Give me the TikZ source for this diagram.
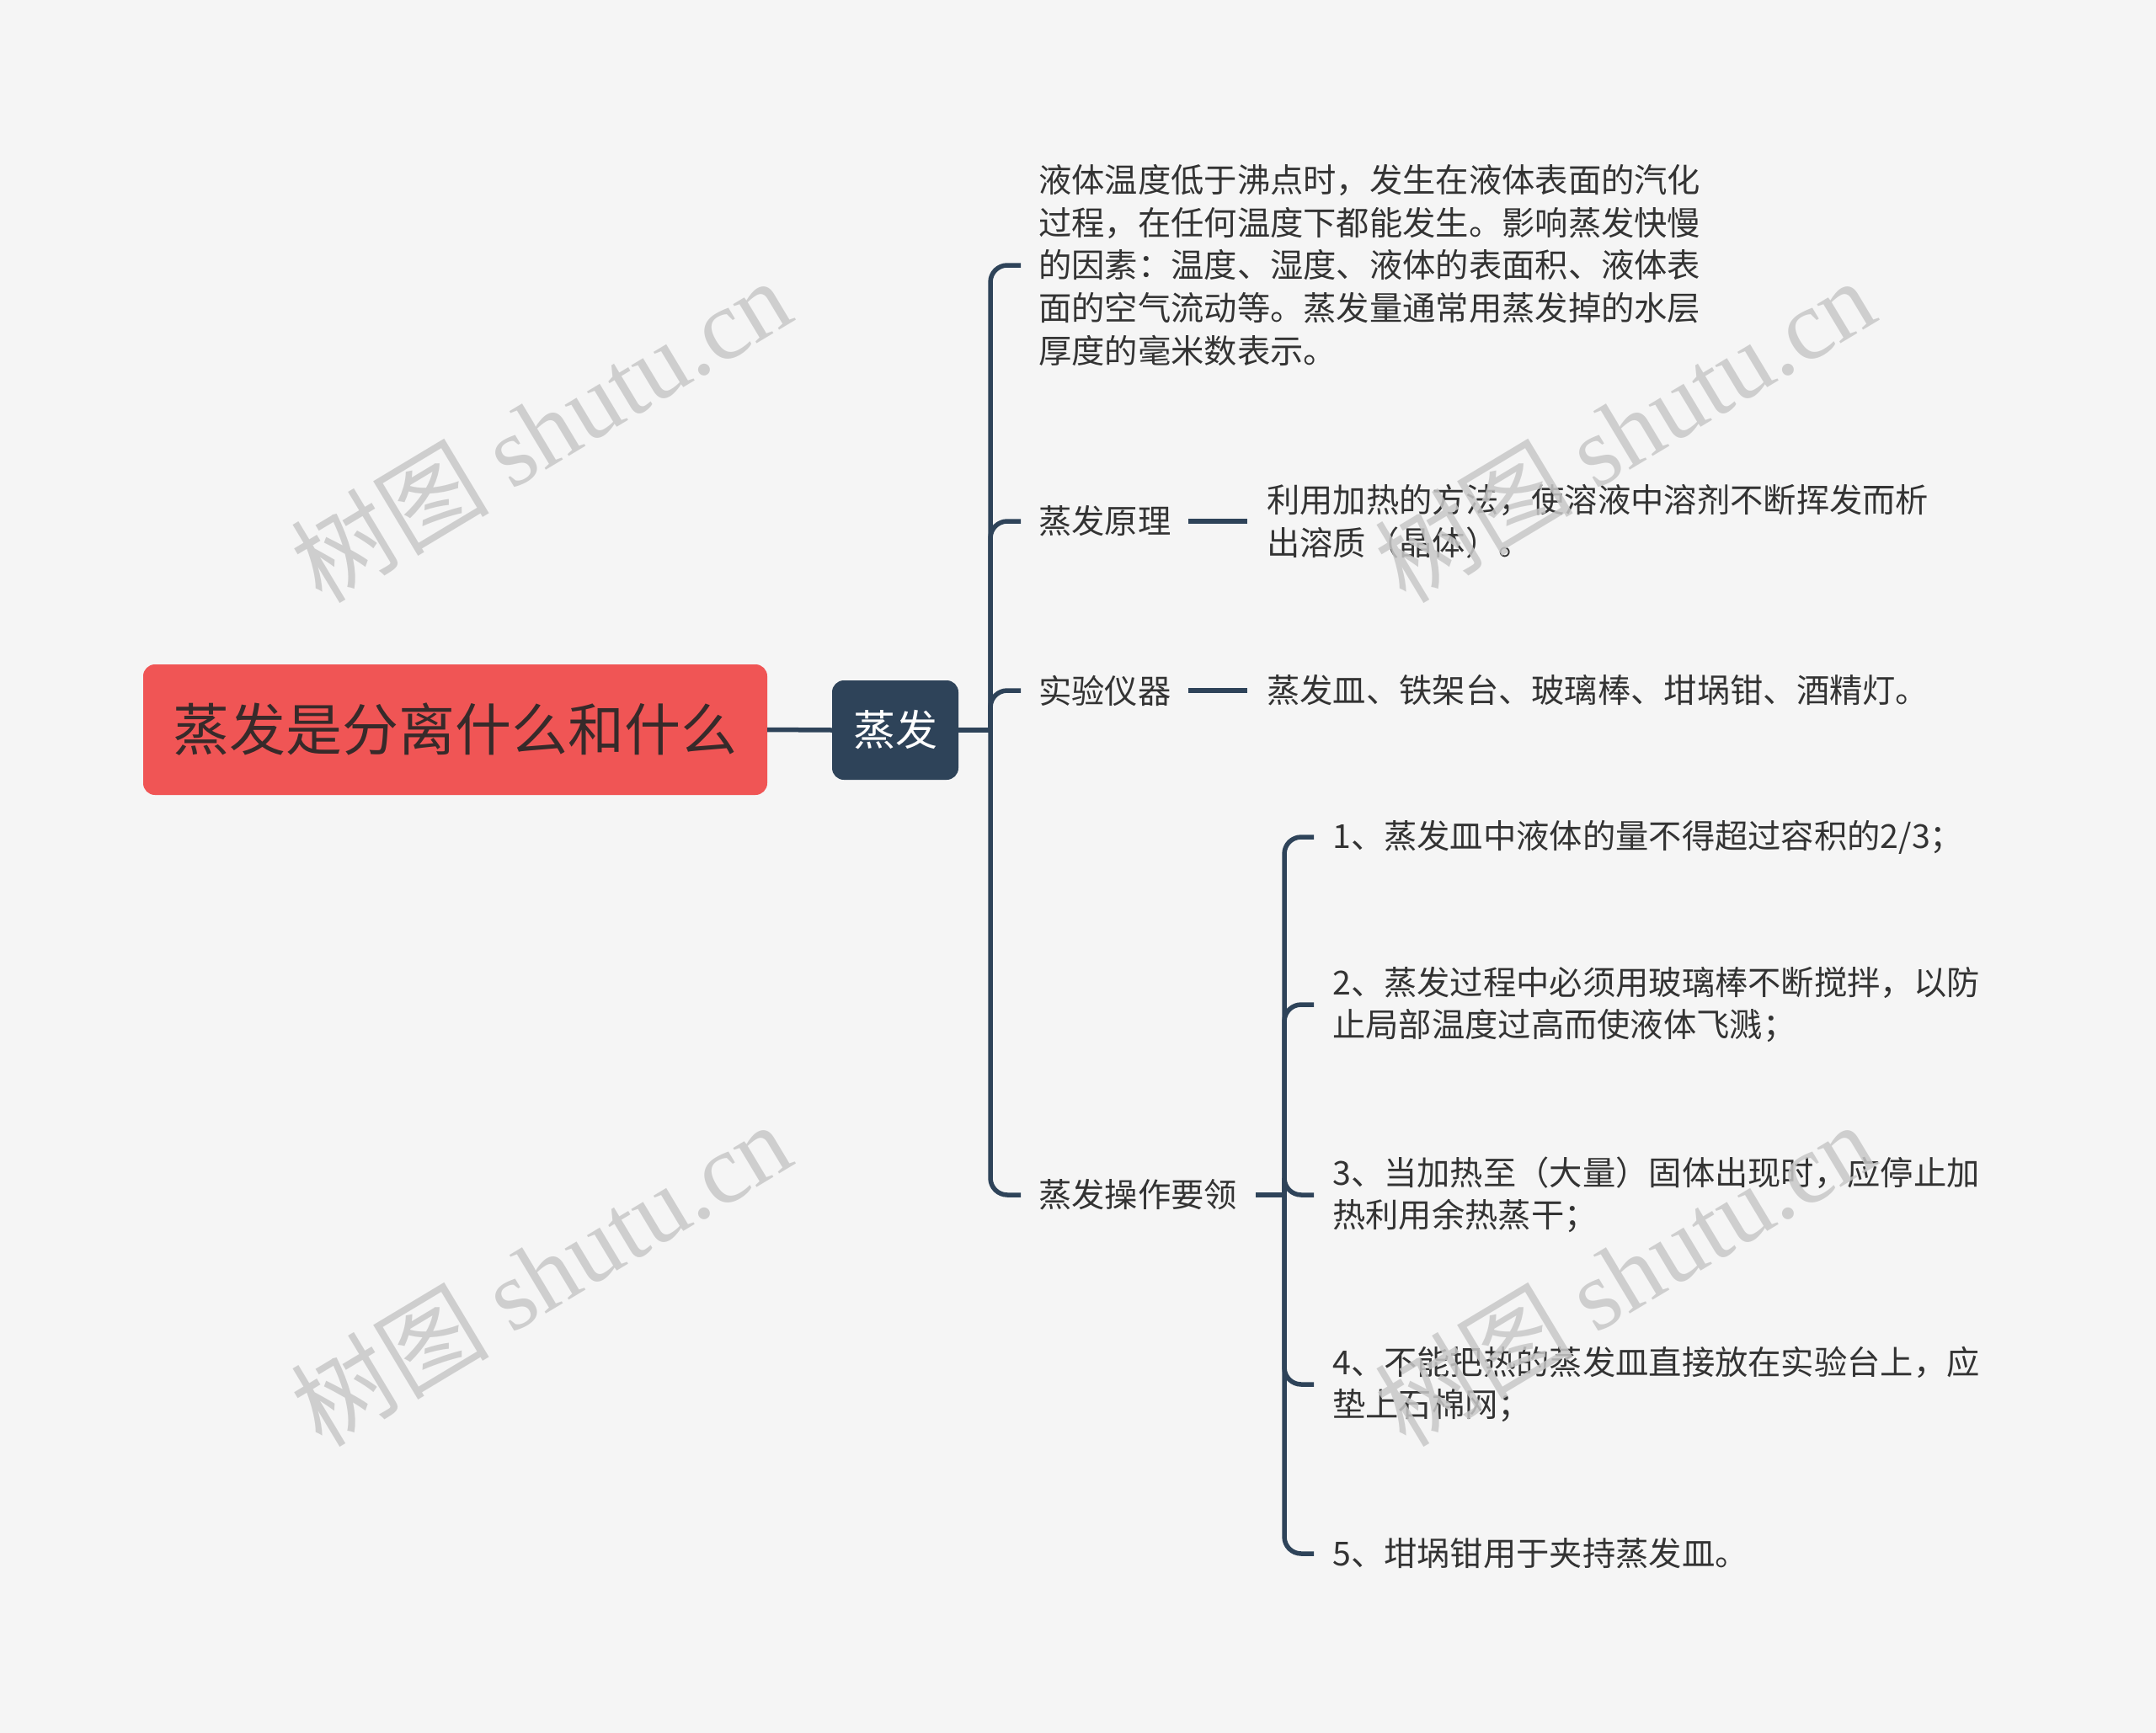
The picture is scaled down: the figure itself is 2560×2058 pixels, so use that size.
\documentclass[tikz,border=0pt]{standalone}
\usepackage{fontspec}
\setmainfont{Noto Sans CJK SC}
\newfontfamily\wmfont{Liberation Serif}
\definecolor{bgcol}{RGB}{245,245,245}
\definecolor{rootred}{RGB}{240,85,85}
\definecolor{roottext}{RGB}{55,42,42}
\definecolor{navy}{RGB}{46,67,89}
\definecolor{ink}{RGB}{51,51,51}
\definecolor{wmgray}{RGB}{200,200,200}
\begin{document}
\begin{tikzpicture}[x=1pt,y=-1pt,
    branch/.style={draw=navy,line width=5.5pt,rounded corners=20pt},
    topic/.style={anchor=west,inner sep=0pt,align=left,text=ink,font=\fontsize{39.3}{50.6}\selectfont},
    wm/.style={rotate=31,text=wmgray,opacity=0.85,font=\fontsize{118}{118}\selectfont}]
    \fill[bgcol] (0,0) rectangle (2560,2058);
    \useasboundingbox (0,0) rectangle (2560,2058);
    \node[fill=rootred,text=roottext,rounded corners=14pt,minimum width=741pt,minimum height=155pt,inner sep=0pt,font=\fontsize{67}{67}\selectfont] (root) at (540.5,866.5) {蒸发是分离什么和什么};
    \node[fill=navy,text=white,rounded corners=14pt,minimum width=150pt,minimum height=118pt,inner sep=0pt,font=\fontsize{50}{50}\selectfont] (hub) at (1063,867) {蒸发};
    \coordinate (j1) at (1176,867);
    \node[topic] (def) at (1233,315) {液体温度低于沸点时，发生在液体表面的汽化\\过程，在任何温度下都能发生。影响蒸发快慢\\的因素：温度、湿度、液体的表面积、液体表\\面的空气流动等。蒸发量通常用蒸发掉的水层\\厚度的毫米数表示。};
    \node[topic] (prin) at (1233,619) {蒸发原理};
    \node[topic] (prind) at (1504,619) {利用加热的方法，使溶液中溶剂不断挥发而析\\出溶质（晶体）。};
    \node[topic] (inst) at (1233,820) {实验仪器};
    \node[topic] (instd) at (1504,820) {蒸发皿、铁架台、玻璃棒、坩埚钳、酒精灯。};
    \node[topic] (ops) at (1233,1419) {蒸发操作要领};
    \coordinate (j2) at (1525,1419);
    \node[topic] (s1) at (1582,994) {1、蒸发皿中液体的量不得超过容积的2/3；};
    \node[topic] (s2) at (1582,1193) {2、蒸发过程中必须用玻璃棒不断搅拌，以防\\止局部温度过高而使液体飞溅；};
    \node[topic] (s3) at (1582,1419) {3、当加热至（大量）固体出现时，应停止加\\热利用余热蒸干；};
    \node[topic] (s4) at (1582,1644) {4、不能把热的蒸发皿直接放在实验台上，应\\垫上石棉网；};
    \node[topic] (s5) at (1582,1845) {5、坩埚钳用于夹持蒸发皿。};
    \draw[branch] (root.east) -- (hub.west);
    \draw[branch] (hub.east) -- (j1);
    \foreach \n in {def,prin,inst,ops}
        \draw[branch] (j1) |- ([xshift=-21pt]\n.west);
    \draw[branch] ([xshift=20pt]prin.east) -- ([xshift=-23pt]prind.west);
    \draw[branch] ([xshift=20pt]inst.east) -- ([xshift=-23pt]instd.west);
    \draw[branch] ([xshift=22pt]ops.east) -- (j2);
    \foreach \n in {s1,s2,s3,s4,s5}
        \draw[branch] (j2) |- ([xshift=-22pt]\n.west);
    \node[wm] (wm1) at (642,510) {树图 {\wmfont shutu.cn}};
    \node[wm] (wm2) at (1929,510) {树图 {\wmfont shutu.cn}};
    \node[wm] (wm3) at (642,1512) {树图 {\wmfont shutu.cn}};
    \node[wm] (wm4) at (1929,1512) {树图 {\wmfont shutu.cn}};
\end{tikzpicture}
\end{document}
